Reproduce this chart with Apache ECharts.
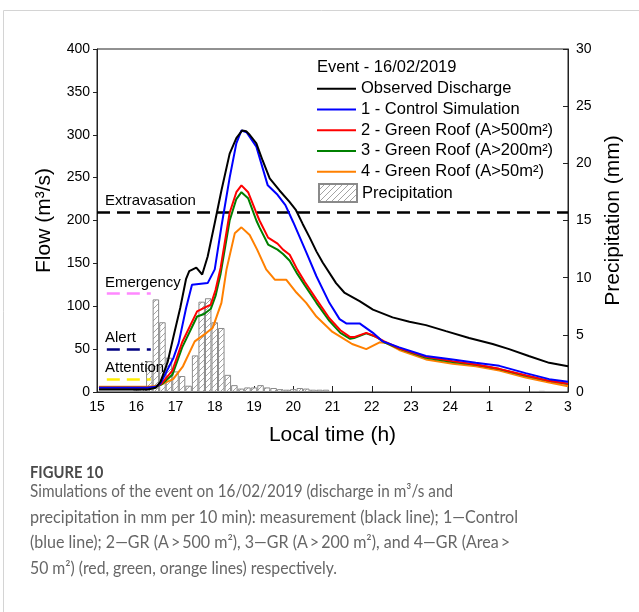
<!DOCTYPE html>
<html><head><meta charset="utf-8">
<script src="https://cdn.jsdelivr.net/npm/echarts@6/dist/echarts.min.js"></script>
<style>html,body{margin:0;padding:0;background:#fff}#c{width:639px;height:612px}</style>
</head><body><div id="c"></div>
<script>
// ---------- data ----------
const xTickLabels = ['15','16','17','18','19','20','21','22','23','24','1','2','3'];

const observed = [[15.05,3],[15.5,3],[16.0,3],[16.3,3],[16.5,5],[16.62,12],[16.8,35],[16.95,65],[17.12,98],[17.27,132],[17.35,141],[17.53,145],[17.68,137],[17.82,158],[18.0,197],[18.17,235],[18.38,278],[18.55,296],[18.7,305],[18.8,304],[18.89,300],[19.06,290],[19.22,270],[19.4,249],[19.65,235],[19.9,222],[20.07,212],[20.24,196],[20.42,180],[20.59,164],[20.75,151],[21.09,127],[21.3,116],[21.69,106],[22.03,96],[22.53,87],[22.96,82],[23.38,78],[23.89,71],[24.48,63],[25.08,56],[25.5,50],[26.0,42],[26.52,34],[27.0,30]];

const control = [[15.05,5],[16.3,5],[16.5,6],[16.62,10],[16.95,40],[17.08,57],[17.27,98],[17.42,125],[17.82,127],[18.0,143],[18.17,193],[18.38,250],[18.55,290],[18.68,305],[18.81,303],[19.06,286],[19.35,241],[19.6,230],[19.8,218],[20.0,198],[20.33,163],[20.59,135],[20.92,104],[21.18,85],[21.35,80],[21.69,80],[22.03,69],[22.28,59],[22.7,52],[23.38,42],[24.06,38],[24.65,34],[25.25,30.5],[25.92,22],[26.52,15],[27.0,12]];

const gr500 = [[15.05,5],[16.3,5],[16.5,6],[16.65,10],[16.92,25],[17.17,58],[17.55,94],[17.73,98],[17.9,102],[18.02,119],[18.15,145],[18.38,209],[18.55,233],[18.68,241],[18.85,233],[19.06,209],[19.14,200],[19.36,180],[19.6,173],[19.74,166],[19.91,160],[20.1,143],[20.3,128],[20.59,108],[20.92,86],[21.2,72],[21.45,64],[21.55,64],[21.86,69],[22.03,66],[22.32,59],[22.7,51],[23.38,41],[24.06,36],[24.65,32],[25.25,27],[25.92,19.5],[26.52,13],[27.0,9.5]];

const gr200 = [[15.05,5],[16.3,5],[16.5,6],[16.65,9],[16.92,20],[17.17,52],[17.55,88],[17.73,91],[17.9,97],[18.02,112],[18.15,138],[18.38,200],[18.55,225],[18.68,233],[18.85,226],[19.06,200],[19.14,192],[19.36,172],[19.6,166],[19.74,161],[19.91,153],[20.1,138],[20.3,124],[20.59,104],[20.92,83],[21.2,69],[21.45,62],[21.55,63],[21.86,68.4],[22.11,64.5],[22.32,58],[22.7,50.6],[23.38,40],[24.06,35],[24.65,31.7],[25.25,26.7],[25.92,19],[26.52,13],[27.0,9.3]];

const gr50 = [[15.05,6],[16.3,6],[16.5,7],[16.7,10],[16.94,15],[17.19,30],[17.49,59],[17.79,69],[17.95,75],[18.17,104],[18.3,143],[18.51,185],[18.68,192],[18.89,183],[19.08,166],[19.31,143],[19.53,131],[19.82,131],[20.08,116],[20.33,104],[20.59,88],[21.0,70],[21.25,63],[21.5,56],[21.86,50],[22.2,58],[22.37,57],[22.7,49],[23.38,38],[24.06,33],[24.65,30],[25.25,25],[25.92,17],[26.52,11],[27.0,6.6]];

const rainTime  = [16.0,16.167,16.333,16.5,16.667,16.833,17.0,17.167,17.333,17.5,17.667,17.833,18.0,18.167,18.333,18.5,18.667,18.833,19.0,19.167,19.333,19.5,19.667,19.833,20.0,20.167,20.333,20.5,20.667,20.833,21.333,21.667,22.167,22.333,26.333];
const rainValue = [0.15,0.3,2.7,8.1,6.1,3.0,1.8,1.4,0.55,3.2,7.9,8.2,6.1,5.6,1.5,0.6,0.3,0.4,0.4,0.6,0.4,0.35,0.25,0.2,0.25,0.35,0.3,0.2,0.2,0.2,0.08,0.08,0.08,0.08,0.1];

const thresholdNames  = ['Extravasation','Emergency','Alert','Attention'];
const thresholdValues = [210,115,50,15];
const thresholdStart  = [15,15.25,15.25,15.25];
const thresholdEnd    = [27,16.37,16.37,16.37];

const seriesNames = ['Observed Discharge','1 - Control Simulation','2 - Green Roof (A>500m\u00b2)','3 - Green Roof (A>200m\u00b2)','4 - Green Roof (A>50m\u00b2)'];
const rainName = 'Precipitation';
const legendTitle = 'Event - 16/02/2019';
const captionTitle = 'FIGURE 10';
const captionLines = [
 'Simulations of the event on 16/02/2019 (discharge in m\u00b3/s and',
 'precipitation in mm per 10 min): measurement (black line); 1\u2014Control',
 '(blue line); 2\u2014GR (A\u2009>\u2009500 m\u00b2), 3\u2014GR (A\u2009>\u2009200 m\u00b2), and 4\u2014GR (Area\u2009>',
 '50 m\u00b2) (red, green, orange lines) respectively.'
];

// ---------- styles / layout ----------
const FONT = 'Liberation Sans, Arial, sans-serif';
const CAP_FONT = '17px Lato, sans-serif';
const lineColors = ['#000000','#0000ff','#ff0000','#008000','#ff8000'];
const thresholdColors = ['#000000','#ff88ff','#000080','#ffee00'];
const capY = [492, 517.5, 543, 569];
const capWidths = [423, 488, 480, 307];

function hatch(){
  const s = 6, c = document.createElement('canvas');
  c.width = s; c.height = s;
  const g = c.getContext('2d');
  g.fillStyle = '#fff'; g.fillRect(0,0,s,s);
  g.strokeStyle = '#9a9a9a'; g.lineWidth = 0.9;
  g.beginPath();
  g.moveTo(0,s); g.lineTo(s,0);
  g.moveTo(-1,1); g.lineTo(1,-1);
  g.moveTo(s-1,s+1); g.lineTo(s+1,s-1);
  g.stroke();
  return c;
}
const measureCtx = document.createElement('canvas').getContext('2d');
function textWidth(t, font){ measureCtx.font = font; return measureCtx.measureText(t).width; }

const chart = echarts.init(document.getElementById('c'), null, {renderer:'canvas'});
const lineData = [observed, control, gr500, gr200, gr50];

const markData = thresholdNames.map((n,i)=>[
  {coord:[thresholdStart[i], thresholdValues[i]], lineStyle:{color:thresholdColors[i]}},
  {coord:[thresholdEnd[i], thresholdValues[i]]}
]);

const series = [{
  name: rainName, type:'bar', yAxisIndex:1, barWidth:6.5,
  data: rainTime.map((t,i)=>[t, rainValue[i]]),
  itemStyle:{color:{image:hatch(), repeat:'repeat'}, borderColor:'#8a8a8a', borderWidth:1},
  z:1, silent:true
}];
for (let k = lineData.length-1; k >= 0; k--) {
  series.push({
    name: seriesNames[k], type:'line', data: lineData[k], symbol:'none',
    lineStyle:{width:2, color:lineColors[k]}, itemStyle:{color:lineColors[k]},
    z: 3 + (lineData.length-k), silent:true
  });
}
series[series.length-1].markLine = {
  symbol:['none','none'], silent:true, animation:false,
  lineStyle:{type:[13,7], width:2.5},
  label:{show:false},
  data: markData
};

chart.setOption({
  animation:false,
  backgroundColor:'#fff',
  title:{text:legendTitle, left:317, top:59, padding:0,
    textStyle:{fontFamily:FONT, fontSize:16.5, fontWeight:'normal', color:'#000'}},
  legend:[{
    data: seriesNames, orient:'vertical', left:317, top:78.5, icon:'rect',
    itemWidth:39, itemHeight:2, itemGap:0, padding:0, selectedMode:false,
    textStyle:{fontFamily:FONT, fontSize:16.5, color:'#000', lineHeight:20.7}
  },{
    data:[rainName], orient:'vertical', left:318, top:183, icon:'rect',
    itemWidth:38, itemHeight:18, padding:0, selectedMode:false,
    textStyle:{fontFamily:FONT, fontSize:16.5, color:'#000'}
  }],
  grid:{left:97, right:71, top:49, bottom:220, show:true, borderColor:'#222', borderWidth:1},
  xAxis:{
    type:'value', min:15, max:27, interval:1,
    name:'Local time (h)', nameLocation:'middle', nameGap:33,
    nameTextStyle:{fontFamily:FONT, fontSize:21, color:'#000'},
    axisLine:{lineStyle:{color:'#222', width:1}},
    axisTick:{inside:true, length:6, lineStyle:{color:'#222'}},
    axisLabel:{fontFamily:FONT, fontSize:14, color:'#000', margin:8,
      formatter:v=>xTickLabels[Math.round(v-15)]},
    splitLine:{show:false}
  },
  yAxis:[{
    type:'value', min:0, max:400, interval:50, position:'left',
    name:'Flow (m\u00b3/s)', nameLocation:'middle', nameGap:42, nameRotate:90,
    nameTextStyle:{fontFamily:FONT, fontSize:21, color:'#000'},
    axisLine:{show:true, lineStyle:{color:'#222', width:1}},
    axisTick:{show:true, inside:false, length:4, lineStyle:{color:'#222'}},
    axisLabel:{fontFamily:FONT, fontSize:14, color:'#000', margin:7},
    splitLine:{show:false}
  },{
    type:'value', min:0, max:30, interval:5, position:'right',
    name:'Precipitation (mm)', nameLocation:'middle', nameGap:33, nameRotate:90,
    nameTextStyle:{fontFamily:FONT, fontSize:21, color:'#000'},
    axisLine:{show:true, lineStyle:{color:'#222', width:1}},
    axisTick:{show:true, inside:true, length:5, lineStyle:{color:'#222'}},
    axisLabel:{fontFamily:FONT, fontSize:14, color:'#000', margin:8},
    splitLine:{show:false}
  }],
  series: series
});

// threshold labels, frame and caption as graphic text
const g = [];
g.push({type:'line', shape:{x1:3.5,y1:10.5,x2:639,y2:10.5}, style:{stroke:'#d4d4d4', lineWidth:1}, silent:true});
g.push({type:'line', shape:{x1:3.5,y1:10.5,x2:3.5,y2:612}, style:{stroke:'#d4d4d4', lineWidth:1}, silent:true});
thresholdNames.forEach((n,i)=>{
  const p = chart.convertToPixel({gridIndex:0}, [15, thresholdValues[i]]);
  g.push({type:'text', x:p[0]+8, y:p[1]-11, silent:true,
    style:{text:n, font:'15px '+FONT, fill:'#000', textVerticalAlign:'middle', textAlign:'left'}, z:50});
});
g.push({type:'text', x:30, y:473, scaleX:0.87, silent:true,
  style:{text:captionTitle, font:'bold 17px Lato, sans-serif', fill:'#4a4a4a', textVerticalAlign:'middle'}});
captionLines.forEach((t,i)=>{
  const sx = capWidths[i] / textWidth(t, CAP_FONT);
  g.push({type:'text', x:30, y:capY[i], scaleX:sx, silent:true,
    style:{text:t, font:CAP_FONT, fill:'#666', textVerticalAlign:'middle'}});
});
chart.setOption({graphic:g});
</script></body></html>
